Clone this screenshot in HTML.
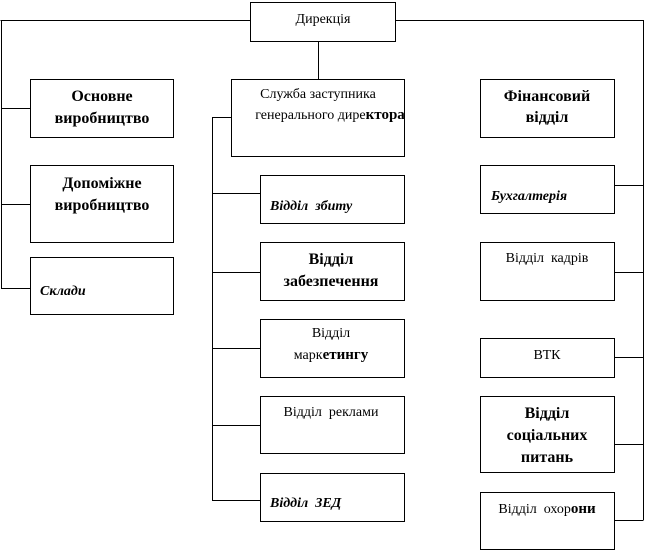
<!DOCTYPE html>
<html><head><meta charset="utf-8"><style>
html,body{margin:0;padding:0;background:#fff;}
svg{display:block;}
text{font-family:"Liberation Serif",serif;fill:#000;white-space:pre;}
.r{font-size:14px;}
.b{font-size:16px;font-weight:bold;}
.i{font-size:14px;font-style:italic;font-weight:bold;}
</style></head><body>
<svg width="645" height="553" xmlns="http://www.w3.org/2000/svg">
<g stroke="#000" stroke-width="1" fill="none" shape-rendering="crispEdges">
<path d="M0.5 20.5H250M395 20.5H643.5V520M1.5 20.5V288.5H30M1.5 108.5H30M1.5 204.5H30"/>
<path d="M318.5 41V79"/>
<path d="M231 117.5H212.5V500.5H260M212.5 193.5H260M212.5 272.5H260M212.5 348.5H260M212.5 425.5H260"/>
<path d="M614 185.5H643.5M614 272.5H643.5M614 357.5H643.5M614 444.5H643.5M614 520.5H643.5"/>
<rect x="250.5" y="2.5" width="145" height="39"/>
<rect x="30.5" y="79.5" width="143" height="58"/>
<rect x="30.5" y="165.5" width="143" height="77"/>
<rect x="30.5" y="257.5" width="143" height="57"/>
<rect x="231.5" y="79.5" width="173" height="77"/>
<rect x="260.5" y="175.5" width="144" height="48"/>
<rect x="260.5" y="242.5" width="144" height="58"/>
<rect x="260.5" y="319.5" width="144" height="58"/>
<rect x="260.5" y="396.5" width="144" height="57"/>
<rect x="260.5" y="473.5" width="144" height="48"/>
<rect x="480.5" y="79.5" width="134" height="58"/>
<rect x="480.5" y="165.5" width="134" height="48"/>
<rect x="480.5" y="242.5" width="134" height="58"/>
<rect x="480.5" y="338.5" width="134" height="39"/>
<rect x="480.5" y="396.5" width="134" height="76"/>
<rect x="480.5" y="492.5" width="134" height="57"/>
</g>
<text class="r" x="323" y="23" text-anchor="middle">Дирекція</text>
<text class="b" x="102" y="101" text-anchor="middle">Основне</text>
<text class="b" x="102" y="123" text-anchor="middle">виробництво</text>
<text class="b" x="102" y="188" text-anchor="middle">Допоміжне</text>
<text class="b" x="102" y="210" text-anchor="middle">виробництво</text>
<text class="i" x="40" y="295">Склади</text>
<text class="r" x="318" y="98" text-anchor="middle">Служба заступника</text>
<text class="r" x="330" y="119" text-anchor="middle">генерального дире<tspan font-weight="bold" font-size="15">ктора</tspan></text>
<text class="i" x="270" y="210">Відділ  збиту</text>
<text class="b" x="331" y="264" text-anchor="middle">Відділ</text>
<text class="b" x="331" y="286" text-anchor="middle">забезпечення</text>
<text class="r" x="331" y="337" text-anchor="middle">Відділ</text>
<text class="r" x="331" y="359" text-anchor="middle">марк<tspan font-weight="bold" font-size="15">етингу</tspan></text>
<text class="r" x="331" y="416" text-anchor="middle">Відділ  реклами</text>
<text class="i" x="270" y="507">Відділ  ЗЕД</text>
<text class="b" x="547" y="101" text-anchor="middle">Фінансовий</text>
<text class="b" x="547" y="122" text-anchor="middle">відділ</text>
<text class="i" x="491" y="200">Бухгалтерія</text>
<text class="r" x="547" y="262" text-anchor="middle">Відділ  кадрів</text>
<text class="r" x="547" y="359" text-anchor="middle">ВТК</text>
<text class="b" x="547" y="418" text-anchor="middle">Відділ</text>
<text class="b" x="547" y="440" text-anchor="middle">соціальних</text>
<text class="b" x="547" y="462" text-anchor="middle">питань</text>
<text class="r" x="547" y="513" text-anchor="middle">Відділ  охор<tspan font-weight="bold" font-size="15">они</tspan></text>
</svg>
</body></html>
